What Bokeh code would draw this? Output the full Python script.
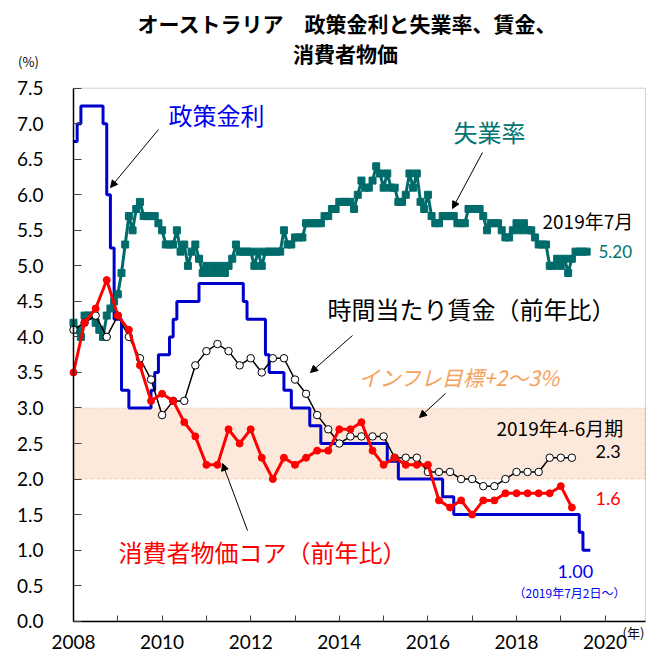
from bokeh.plotting import figure
from bokeh.models import (ColumnDataSource, FixedTicker, NumeralTickFormatter, Label,
                          Arrow, NormalHead, BoxAnnotation, Range1d)
from bokeh.embed import file_html
from bokeh.resources import INLINE

# ---------------- data ----------------
# RBA cash rate: change dates (fractional year) and level after change
policy_dates = [2008.0, 2008.083, 2008.167, 2008.667, 2008.75, 2008.833, 2008.917,
                2009.083, 2009.25, 2009.75, 2009.833, 2009.917, 2010.167, 2010.25,
                2010.333, 2010.833, 2011.833, 2011.917, 2012.333, 2012.417, 2012.75,
                2012.917, 2013.333, 2013.583, 2015.083, 2015.333, 2016.333, 2016.583,
                2019.417, 2019.5, 2019.667]
policy_rates = [6.75, 7.00, 7.25, 7.00, 6.00, 5.25, 4.25,
                3.25, 3.00, 3.25, 3.50, 3.75, 4.00, 4.25,
                4.50, 4.75, 4.50, 4.25, 3.75, 3.50, 3.25,
                3.00, 2.75, 2.50, 2.25, 2.00, 1.75, 1.50,
                1.25, 1.00, 1.00]

# Unemployment rate, monthly from 2008.0
unemp_start = 2008.0
unemployment = [
    4.2, 4.1, 4.0, 4.3, 4.3, 4.3, 4.2, 4.1, 4.0, 4.3, 4.4, 4.5,   # 2008
    4.6, 4.9, 5.3, 5.7, 5.5, 5.8, 5.9, 5.7, 5.7, 5.7, 5.7, 5.6,   # 2009
    5.5, 5.3, 5.3, 5.3, 5.5, 5.2, 5.3, 5.0, 5.2, 5.3, 5.1, 4.9,   # 2010
    5.0, 4.9, 5.0, 4.9, 5.0, 4.9, 5.0, 5.1, 5.3, 5.2, 5.2, 5.2,   # 2011
    5.2, 5.0, 5.2, 5.0, 5.2, 5.2, 5.2, 5.2, 5.2, 5.5, 5.3, 5.3,   # 2012
    5.4, 5.4, 5.4, 5.6, 5.6, 5.6, 5.6, 5.6, 5.7, 5.7, 5.8, 5.8,   # 2013
    5.9, 5.9, 5.9, 5.9, 5.8, 6.0, 6.2, 6.1, 6.1, 6.2, 6.4, 6.3,   # 2014
    6.1, 6.3, 6.1, 6.1, 5.9, 5.9, 6.0, 6.3, 6.1, 6.3, 5.9, 5.8,   # 2015
    6.0, 5.7, 5.6, 5.6, 5.7, 5.7, 5.7, 5.7, 5.6, 5.6, 5.6, 5.8,   # 2016
    5.8, 5.8, 5.8, 5.7, 5.5, 5.6, 5.6, 5.6, 5.5, 5.4, 5.4, 5.5,   # 2017
    5.6, 5.5, 5.6, 5.5, 5.5, 5.4, 5.3, 5.3, 5.3, 5.0, 5.0, 5.1,   # 2018
    5.0, 5.1, 4.9, 5.1, 5.2, 5.2, 5.2, 5.2,                       # 2019
]

# Quarterly series from 2008 Q1
q_start = 2008.0
wages = [
    4.1, 4.2, 4.3, 4.0,
    4.3, 4.0, 3.7, 3.4,
    2.9, 3.1, 3.1, 3.6,
    3.8, 3.9, 3.8, 3.6,
    3.7, 3.5, 3.7, 3.7,
    3.4, 3.2, 2.9, 2.7,
    2.5, 2.6, 2.6, 2.6,
    2.6, 2.3, 2.3, 2.3,
    2.1, 2.1, 2.1, 2.0,
    2.0, 1.9, 1.9, 2.0,
    2.1, 2.1, 2.1, 2.3,
    2.3, 2.3,
]
core_cpi = [
    3.5, 4.2, 4.4, 4.8,
    4.3, 4.1, 3.6, 3.1,
    3.2, 3.1, 2.8, 2.6,
    2.2, 2.2, 2.7, 2.5,
    2.7, 2.3, 2.0, 2.3,
    2.2, 2.3, 2.4, 2.4,
    2.7, 2.7, 2.8, 2.4,
    2.2, 2.3, 2.2, 2.2,
    2.2, 1.7, 1.6, 1.7,
    1.5, 1.7, 1.7, 1.8,
    1.8, 1.8, 1.8, 1.8,
    1.9, 1.6,
]

target_low, target_high = 2.0, 3.0

x_ticks = [2008, 2010, 2012, 2014, 2016, 2018, 2020]
x_minor = [2009, 2011, 2013, 2015, 2017, 2019]
y_ticks = [0.0, 0.5, 1.0, 1.5, 2.0, 2.5, 3.0, 3.5, 4.0, 4.5, 5.0, 5.5, 6.0, 6.5, 7.0, 7.5]
x_min, x_max = 2008, 2020.91
y_min, y_max = 0.0, 7.5

# ---------------- geometry ----------------
JP = "Noto Sans CJK JP"
NUM = "Lato"
BLUE = "#0000CC"
TEAL = "#006B6B"
RED = "#FF0000"
ORANGE = "#F4A25C"

W, H = 649, 656
LEFT_PX, BOTTOM_PX = 73, 620.7          # page position of (x_min, y_min)
PX_YEAR, PX_UNIT = 44.3, 71.07          # pixel scale

# the plot frame fills the whole canvas; axes are drawn at fixed locations
xr = Range1d(x_min - LEFT_PX / PX_YEAR, x_min + (W - LEFT_PX) / PX_YEAR)
yr = Range1d(y_min - (H - BOTTOM_PX) / PX_UNIT, y_min + BOTTOM_PX / PX_UNIT)

p = figure(width=W, height=H, output_backend="svg", toolbar_location=None,
           title=None, x_range=xr, y_range=yr, min_border=0)
p.background_fill_color = "white"
p.border_fill_color = "white"
p.outline_line_color = None
p.xgrid.visible = False
p.ygrid.visible = False

p.xaxis.fixed_location = y_min
p.yaxis.fixed_location = x_min
p.xaxis.bounds = (x_min, x_max)
p.yaxis.bounds = (y_min, y_max)
p.xaxis.ticker = FixedTicker(ticks=x_ticks, minor_ticks=x_minor)
p.yaxis.ticker = FixedTicker(ticks=y_ticks)
p.yaxis.formatter = NumeralTickFormatter(format="0.0")
for ax in (p.xaxis[0], p.yaxis[0]):
    ax.axis_line_color = "black"
    ax.axis_line_width = 1.5
    ax.major_tick_out = 0
    ax.minor_tick_out = 0
    ax.major_tick_line_color = "#444444"
    ax.minor_tick_line_color = "#444444"
    ax.major_label_text_font = NUM
    ax.major_label_text_font_size = "19px"
    ax.major_label_text_color = "black"
p.xaxis.major_tick_in = 6
p.xaxis.minor_tick_in = 6
p.yaxis.major_tick_in = 8
p.yaxis.minor_tick_in = 0
p.yaxis.major_label_standoff = 30
p.xaxis.major_label_standoff = 14

# inflation target band (dashed edges) and plot box
p.add_layout(BoxAnnotation(left=x_min, right=x_max, bottom=target_low, top=target_high,
                           fill_color="#FDE9DB", fill_alpha=1.0, line_color=ORANGE,
                           line_dash="4 2", line_width=1.2, level="underlay"))
p.add_layout(BoxAnnotation(left=x_min, right=x_max, bottom=y_min, top=y_max,
                           fill_alpha=0, line_color="#666666", line_width=1,
                           level="underlay"))

# policy rate
p.step(policy_dates, policy_rates, mode="after", line_color=BLUE, line_width=3)

# unemployment
u_src = ColumnDataSource(dict(x=[unemp_start + i / 12 for i in range(len(unemployment))],
                              y=unemployment))
p.line("x", "y", source=u_src, line_color=TEAL, line_width=3)
p.scatter("x", "y", source=u_src, marker="square", size=7, fill_color=TEAL, line_color=TEAL)

# wages
w_src = ColumnDataSource(dict(x=[q_start + i / 4 for i in range(len(wages))], y=wages))
p.line("x", "y", source=w_src, line_color="black", line_width=1.5)
p.scatter("x", "y", source=w_src, marker="circle", size=7.5, fill_color="white",
          line_color="black", line_width=1)

# core CPI
c_src = ColumnDataSource(dict(x=[q_start + i / 4 for i in range(len(core_cpi))], y=core_cpi))
p.line("x", "y", source=c_src, line_color=RED, line_width=3)
p.scatter("x", "y", source=c_src, marker="circle", size=7, fill_color=RED, line_color=RED)


# ---------------- annotations (page pixel positions -> data) ----------------
def X(px):
    return x_min + (px - LEFT_PX) / PX_YEAR


def Y(py):
    return y_min + (BOTTOM_PX - py) / PX_UNIT


def txt(s, px, py, size, color="black", align="left", font=JP, style="normal"):
    p.add_layout(Label(x=X(px), y=Y(py), text=s, text_font=font, text_font_size=size,
                       text_color=color, text_align=align, text_baseline="middle",
                       text_font_style=style))


def arrow(x0, y0, x1, y1):
    p.add_layout(Arrow(end=NormalHead(size=7, fill_color="black", line_color="black",
                                      line_width=1),
                       x_start=X(x0), y_start=Y(y0), x_end=X(x1), y_end=Y(y1),
                       line_color="black", line_width=1))


txt("オーストラリア\u3000政策金利と失業率、賃金、", 347, 22, "21px", align="center", style="bold")
txt("消費者物価", 345, 52, "21px", align="center", style="bold")
txt("(%)", 28, 61, "13px", align="center")
txt("(年)", 633, 632, "13px", align="center")

txt("政策金利", 168, 114, "24px", color="#0000EE")
arrow(158, 129, 110, 187)
txt("失業率", 453, 131, "24px", color="#007373")
arrow(482, 152, 452, 208)
txt("2019年7月", 542, 220, "19px")
txt("5.20", 598, 251, "17px", color="#007373", font=NUM)
txt("時間当たり賃金（前年比）", 327, 308, "24px")
arrow(352, 335, 310, 372)
txt("インフレ目標+2～3%", 358, 376, "21px", color=ORANGE, style="italic")
arrow(445, 393, 419, 417)
txt("2019年4-6月期", 496, 427, "19px")
txt("2.3", 595, 451, "18px", font=NUM)
txt("1.6", 595, 498, "18px", color=RED, font=NUM)
txt("1.00", 557, 571, "18px", color="#0000EE", font=NUM)
txt("（2019年7月2日～）", 513, 592, "12px", color="#0000EE")
txt("消費者物価コア（前年比）", 118, 551, "24px", color=RED)
arrow(247, 530, 222, 463)

open("out.html", "w").write(file_html(p, INLINE))
